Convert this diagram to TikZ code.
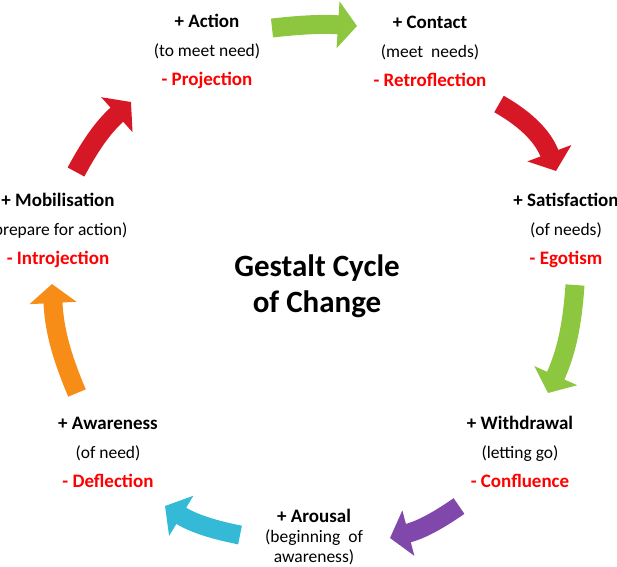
\documentclass[tikz,border=0pt]{standalone}
\usepackage{fontspec}
\setmainfont{Carlito}
\usetikzlibrary{arrows.meta}
\usetikzlibrary{positioning}
\definecolor{custom-green}{RGB}{141, 198, 63}
\definecolor{custom-red}{RGB}{214, 24, 38}
\definecolor{custom-purple}{RGB}{128, 72, 170}
\definecolor{custom-cyan}{RGB}{52, 186, 214}
\definecolor{custom-orange}{RGB}{247, 140, 22}
\definecolor{custom-text-red}{RGB}{255, 0, 0}

\tikzset{
  stage/.style={align=center, font=\fontsize{17.5}{29}\selectfont, inner sep=0pt},
  cyclearrow/.style={line width=19pt, -{Triangle[width=46pt,length=19pt]}},
}
\newcommand{\plus}[1]{{\fontsize{19}{29}\selectfont\bfseries #1}}
\newcommand{\minus}[1]{{\fontsize{19}{29}\selectfont\bfseries\color{custom-text-red}#1}}

\begin{document}
\begin{tikzpicture}[x=1pt, y=-1pt]
\useasboundingbox (0,0) rectangle (617,566);
\clip (0,0) rectangle (617,566);

% stages
\node[stage] (action) at (207,51) {\plus{+ Action}\\(to meet need)\\\minus{- Projection}};
\node[stage] (contact) at (430,51) {\plus{+ Contact}\\(meet~ needs)\\\minus{- Retroflection}};
\node[stage] (satisfaction) at (566,230) {\plus{+ Satisfaction}\\(of needs)\\\minus{- Egotism}};
\node[stage] (withdrawal) at (520,452) {\plus{+ Withdrawal}\\(letting go)\\\minus{- Confluence}};
\node[stage, font=\fontsize{17.5}{20}\selectfont] (arousal) at (314,537) {\plus{+ Arousal}\\(beginning~ of\\awareness)};
\node[stage] (awareness) at (108,452) {\plus{+ Awareness}\\(of need)\\\minus{- Deflection}};
\node[stage] (mobilisation) at (58,230) {\plus{+ Mobilisation}\\(prepare for action)\\\minus{- Introjection}};
\node[stage, font=\fontsize{31}{36}\selectfont\bfseries] (title) at (317,286) {Gestalt Cycle\\of Change};

% arrow ends
\coordinate (g1s) at (272,28);  \coordinate (g1e) at (357,26);
\coordinate (r1s) at (499,104); \coordinate (r1e) at (556,171);
\coordinate (g2s) at (575,285); \coordinate (g2e) at (548,393);
\coordinate (p1s) at (459,506); \coordinate (p1e) at (390,538);
\coordinate (c1s) at (240,535); \coordinate (c1e) at (165,506);
\coordinate (o1s) at (77,393);  \coordinate (o1e) at (52,284);
\coordinate (r2s) at (76,172);  \coordinate (r2e) at (131,102);

\draw[cyclearrow, custom-green] (g1s) to[bend left=5] (g1e);
\draw[cyclearrow, custom-red] (r1s) to[bend left=20] (r1e);
\draw[cyclearrow, custom-green] (g2s) to[bend left=10] (g2e);
\draw[cyclearrow, custom-purple] (p1s) to[bend left=10] (p1e);
\draw[cyclearrow, custom-cyan] (c1s) to[bend left=10] (c1e);
\draw[cyclearrow, custom-orange] (o1s) to[bend left=10] (o1e);
\draw[cyclearrow, custom-red] (r2s) to[bend left=10] (r2e);
\end{tikzpicture}
\end{document}
